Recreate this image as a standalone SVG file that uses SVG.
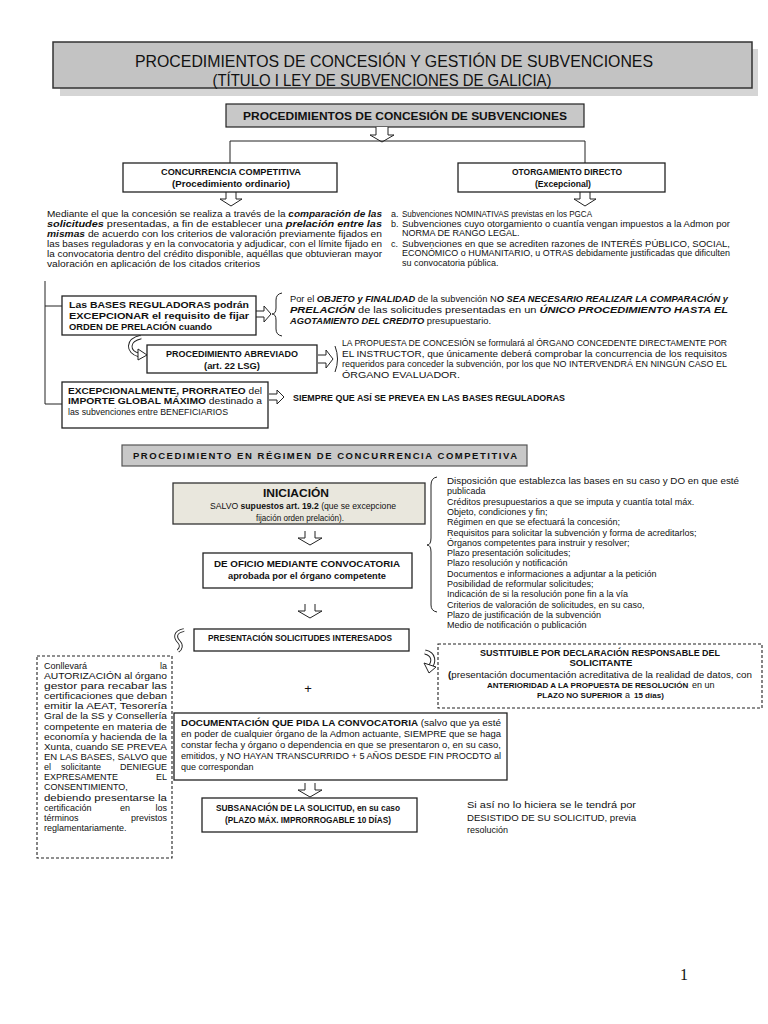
<svg xmlns="http://www.w3.org/2000/svg" width="768" height="1024" viewBox="0 0 768 1024">
<style>
text{font-family:"Liberation Sans",Arial,sans-serif;font-size:9px;fill:#111}
.b{font-weight:bold}
.bi{font-weight:bold;font-style:italic}
.c{text-anchor:middle}
.e{text-anchor:end}
.box{fill:#fff;stroke:#222;stroke-width:1.3}
.dash{fill:#fff;stroke:#222;stroke-width:1.1;stroke-dasharray:3,2}
.ln{fill:none;stroke:#222;stroke-width:1}
.arw{fill:#fff;stroke:#222;stroke-width:1}
.title{font-size:16.5px}
.s10{font-size:10px}
.s11{font-size:11px}
.s85{font-size:8.5px}
.s8{font-size:8px}
</style>
<rect width="768" height="1024" fill="#fff"/>

<g id="title">
<rect x="60" y="49" width="698" height="47" fill="#d5d5d5"/>
<rect x="53" y="42" width="699" height="46" fill="#c3c3c3" stroke="#333" stroke-width="1.5"/>
<text class="title c" x="394" y="67" textLength="518" lengthAdjust="spacingAndGlyphs">PROCEDIMIENTOS DE CONCESIÓN Y GESTIÓN DE SUBVENCIONES</text>
<text class="title c" x="382" y="86" textLength="339" lengthAdjust="spacingAndGlyphs">(TÍTULO I LEY DE SUBVENCIONES DE GALICIA)</text>
</g>

<g id="sub1">
<rect x="226" y="104" width="358" height="23" fill="#c8c8c8" stroke="#222" stroke-width="1.2"/>
<text class="b c s11" x="405" y="120" textLength="324" lengthAdjust="spacingAndGlyphs">PROCEDIMIENTOS DE CONCESIÓN DE SUBVENCIONES</text>
</g>

<g id="connectors">
<path class="arw" d="M376 127V135H370L382 142L394 135H388V127"/>
<path class="ln" d="M230 163V141H585V163"/>
<path class="arw" d="M226 192V199H220L231 206L242 199H236V192"/>
<path class="arw" d="M580 192V199H574L585 206L596 199H590V192"/>
<path class="ln" d="M45 281V404M45 306H62M45 404H62"/>
<path class="arw" d="M256 311H264V306L271 314L264 322V317H256"/>
<path class="ln" d="M282 293Q276 294 276 300V308Q276 314 272 314Q276 314 276 320V329Q276 335 282 336"/>
<path d="M141 337C127 340 127 352 139 355" fill="none" stroke="#222" stroke-width="4.5"/>
<path d="M141 337C127 340 127 352 139 355" fill="none" stroke="#fff" stroke-width="2.6"/>
<path class="arw" d="M138 349L147 355L138 360Z"/>
<path class="arw" d="M318 355H326V350L333 359L326 368V363H318"/>
<path class="ln" d="M335 346Q340 359 335 372"/>
<path class="arw" d="M269 394H277V390L284 397L277 404V400H269"/>
<path class="arw" d="M305 531V538H298L310 545L322 538H315V531"/>
<path class="arw" d="M305 604V611H298L310 618L322 611H315V604"/>
<path class="ln" d="M437 477Q431 478 431 485V538Q431 545 427 545Q431 545 431 552V605Q431 611 437 612"/>
<path d="M184 630C174 632 175 638 179 642C182 645 181 649 178 651" fill="none" stroke="#222" stroke-width="3.8"/>
<path d="M184 630C174 632 175 638 179 642C182 645 181 649 178 651" fill="none" stroke="#fff" stroke-width="2"/>
<path d="M425 652C434 654 435 662 429 668" fill="none" stroke="#222" stroke-width="5"/>
<path d="M425 652C434 654 435 662 429 668" fill="none" stroke="#fff" stroke-width="3"/>
<path class="arw" d="M424 663L429 673L436 667Z"/>
<path class="arw" d="M305 783V790H298L310 797L322 790H315V783"/>
</g>

<g id="concurrencia">
<rect class="box" x="123" y="163" width="214" height="29"/>
<text class="b c s85" x="231" y="175" textLength="140" lengthAdjust="spacingAndGlyphs">CONCURRENCIA COMPETITIVA</text>
<text class="b c s85" x="231" y="187" textLength="118" lengthAdjust="spacingAndGlyphs">(Procedimiento ordinario)</text>
</g>

<g id="otorgamiento">
<rect class="box" x="458" y="163" width="207" height="29"/>
<text class="b c s85" x="567" y="175" textLength="110" lengthAdjust="spacingAndGlyphs">OTORGAMIENTO DIRECTO</text>
<text class="b c s85" x="563" y="187" textLength="56" lengthAdjust="spacingAndGlyphs">(Excepcional)</text>
</g>

<g id="texto-concurrencia">
<text x="47" y="217" textLength="335" lengthAdjust="spacingAndGlyphs">Mediante el  que la concesión se realiza a través de la <tspan class="bi">comparación de las</tspan></text>
<text x="47" y="227" textLength="335" lengthAdjust="spacingAndGlyphs"><tspan class="bi">solicitudes</tspan> presentadas, a fin de establecer una <tspan class="bi">prelación entre las</tspan></text>
<text x="47" y="237" textLength="335" lengthAdjust="spacingAndGlyphs"><tspan class="bi">mismas</tspan> de acuerdo con los criterios de valoración previamente fijados en</text>
<text x="47" y="247" textLength="335" lengthAdjust="spacingAndGlyphs">las bases reguladoras y en la convocatoria y adjudicar, con el límite fijado en</text>
<text x="47" y="257" textLength="335" lengthAdjust="spacingAndGlyphs">la convocatoria dentro del crédito disponible, aquéllas que obtuvieran mayor</text>
<text x="47" y="267" textLength="213" lengthAdjust="spacingAndGlyphs">valoración en aplicación de los citados criterios</text>
</g>

<g id="texto-directo">
<text x="391" y="217">a.</text>
<text x="402" y="217" textLength="190" lengthAdjust="spacingAndGlyphs">Subvenciones NOMINATIVAS previstas en los PGCA</text>
<text x="391" y="227">b.</text>
<text x="402" y="227" textLength="328" lengthAdjust="spacingAndGlyphs">Subvenciones cuyo otorgamiento o cuantía vengan impuestos a la Admon por</text>
<text x="402" y="236">NORMA DE RANGO LEGAL.</text>
<text x="391" y="247">c.</text>
<text x="402" y="247" textLength="328" lengthAdjust="spacingAndGlyphs">Subvenciones en que se acrediten razones de INTERÉS PÚBLICO, SOCIAL,</text>
<text x="402" y="256" textLength="328" lengthAdjust="spacingAndGlyphs">ECONÓMICO o HUMANITARIO, u OTRAS debidamente justificadas que dificulten</text>
<text x="402" y="266">su convocatoria pública.</text>
</g>

<g id="bases">
<rect class="box" x="62" y="296" width="194" height="39"/>
<text class="b" x="69" y="308" textLength="180" lengthAdjust="spacingAndGlyphs">Las  BASES  REGULADORAS  podrán</text>
<text class="b" x="69" y="319" textLength="180" lengthAdjust="spacingAndGlyphs">EXCEPCIONAR el requisito de fijar</text>
<text class="b" x="69" y="330" textLength="143" lengthAdjust="spacingAndGlyphs">ORDEN DE PRELACIÓN cuando</text>
</g>

<g id="texto-objeto">
<text x="290" y="302" textLength="438" lengthAdjust="spacingAndGlyphs">Por el <tspan class="bi">OBJETO y FINALIDAD</tspan> de la subvención N<tspan class="bi">O SEA NECESARIO REALIZAR LA COMPARACIÓN y</tspan></text>
<text x="290" y="313" textLength="438" lengthAdjust="spacingAndGlyphs"><tspan class="bi">PRELACIÓN</tspan> de las solicitudes presentadas en un <tspan class="bi">ÚNICO PROCEDIMIENTO HASTA EL</tspan></text>
<text x="290" y="324" textLength="201" lengthAdjust="spacingAndGlyphs"><tspan class="bi">AGOTAMIENTO DEL CREDITO</tspan> presupuestario.</text>
</g>

<g id="abreviado">
<rect class="box" x="147" y="345" width="170" height="28"/>
<text class="b c" x="232" y="357" textLength="132" lengthAdjust="spacingAndGlyphs">PROCEDIMIENTO ABREVIADO</text>
<text class="b c" x="232" y="369" textLength="56" lengthAdjust="spacingAndGlyphs">(art. 22 LSG)</text>
</g>

<g id="texto-propuesta">
<text x="342" y="346" textLength="385" lengthAdjust="spacingAndGlyphs">LA PROPUESTA DE CONCESIÓN se formulará al ÓRGANO CONCEDENTE DIRECTAMENTE POR</text>
<text x="342" y="357" textLength="385" lengthAdjust="spacingAndGlyphs">EL INSTRUCTOR, que únicamente deberá comprobar la concurrencia de los requisitos</text>
<text x="342" y="367" textLength="385" lengthAdjust="spacingAndGlyphs">requeridos para conceder la subvención, por los que NO INTERVENDRÁ EN NINGÚN CASO EL</text>
<text x="342" y="378" textLength="118" lengthAdjust="spacingAndGlyphs">ÓRGANO EVALUADOR.</text>
</g>

<g id="prorrateo">
<rect class="box" x="62" y="382" width="206" height="46"/>
<text x="68" y="394" textLength="194" lengthAdjust="spacingAndGlyphs"><tspan class="b">EXCEPCIONALMENTE, PRORRATEO</tspan> del</text>
<text x="68" y="404" textLength="194" lengthAdjust="spacingAndGlyphs"><tspan class="b">IMPORTE GLOBAL MÁXIMO</tspan> destinado a</text>
<text x="68" y="415" textLength="160" lengthAdjust="spacingAndGlyphs">las subvenciones entre  BENEFICIARIOS</text>
</g>

<g id="texto-siempre">
<text class="b" x="293" y="401" textLength="272" lengthAdjust="spacingAndGlyphs">SIEMPRE QUE ASÍ SE PREVEA EN LAS BASES REGULADORAS</text>
</g>

<g id="sub2">
<rect x="122" y="445" width="405" height="21" fill="#c8c8c8" stroke="#555" stroke-width="1.2"/>
<text class="b c" x="325" y="459" style="font-size:9.5px" textLength="384" lengthAdjust="spacing">PROCEDIMIENTO EN RÉGIMEN DE CONCURRENCIA COMPETITIVA</text>
</g>

<g id="iniciacion">
<rect x="173" y="483" width="252" height="41" fill="#e9e7dd" stroke="#333" stroke-width="1.3"/>
<text class="b c s10" x="296" y="497" textLength="66" lengthAdjust="spacingAndGlyphs">INICIACIÓN</text>
<text class="c" x="303" y="509" textLength="186" lengthAdjust="spacingAndGlyphs">SALVO <tspan class="b">supuestos art. 19.2</tspan> (que se excepcione</text>
<text class="c" x="300" y="521" textLength="88" lengthAdjust="spacingAndGlyphs">fijación orden prelación).</text>
</g>

<g id="oficio">
<rect class="box" x="203" y="553" width="209" height="35"/>
<text class="b c" x="307" y="567" textLength="186" lengthAdjust="spacingAndGlyphs">DE OFICIO MEDIANTE  CONVOCATORIA</text>
<text class="b c" x="307" y="579" textLength="158" lengthAdjust="spacingAndGlyphs">aprobada por el órgano competente</text>
</g>

<g id="contenido-convocatoria">
<text x="447" y="484" textLength="292" lengthAdjust="spacingAndGlyphs">Disposición que establezca las bases en su caso y DO en que esté</text>
<text x="447" y="494">publicada</text>
<text x="447" y="505">Créditos presupuestarios a que se imputa y cuantía total máx.</text>
<text x="447" y="515">Objeto, condiciones y fin;</text>
<text x="447" y="525">Régimen  en que se efectuará la concesión;</text>
<text x="447" y="536">Requisitos para solicitar la subvención y forma de acreditarlos;</text>
<text x="447" y="546">Órganos competentes para instruir y resolver;</text>
<text x="447" y="556">Plazo presentación solicitudes;</text>
<text x="447" y="566">Plazo resolución y notificación</text>
<text x="447" y="577">Documentos e informaciones a adjuntar a la petición</text>
<text x="447" y="587">Posibilidad de reformular solicitudes;</text>
<text x="447" y="597">Indicación de si la resolución pone fin a la vía</text>
<text x="447" y="608">Criterios de valoración de solicitudes, en su caso,</text>
<text x="447" y="618">Plazo de justificación de la subvención</text>
<text x="447" y="628">Medio de notificación o publicación</text>
</g>

<g id="presentacion">
<rect class="box" x="194" y="629" width="215" height="22"/>
<text class="b c" x="300" y="641" textLength="184" lengthAdjust="spacingAndGlyphs">PRESENTACIÓN SOLICITUDES INTERESADOS</text>
</g>

<g id="sustituible">
<rect class="dash" x="438" y="644" width="324" height="64"/>
<text class="b c" x="600" y="656" textLength="240" lengthAdjust="spacingAndGlyphs">SUSTITUIBLE POR DECLARACIÓN RESPONSABLE DEL</text>
<text class="b c" x="601" y="666" textLength="63" lengthAdjust="spacingAndGlyphs">SOLICITANTE</text>
<text class="c" x="600" y="678" textLength="304" lengthAdjust="spacingAndGlyphs"><tspan class="b">(</tspan>presentación documentación acreditativa de la realidad de datos, con</text>
<text class="b s8" x="487" y="688">ANTERIORIDAD A LA PROPUESTA DE RESOLUCIÓN</text>
<text x="692" y="688">en un</text>
<text class="b s8" x="537" y="698">PLAZO NO SUPERIOR</text>
<text x="625" y="698">a</text>
<text class="b s8" x="634" y="698">15 días)</text>
</g>

<g id="mas">
<text class="c" x="308" y="693" style="font-size:13px">+</text>
</g>

<g id="autorizacion">
<rect class="dash" x="37" y="656" width="135" height="202"/>
<text x="44" y="669">Conllevará</text><text class="e" x="167" y="669">la</text>
<text x="44" y="679" textLength="123" lengthAdjust="spacingAndGlyphs">AUTORIZACIÓN al órgano</text>
<text x="44" y="689" textLength="123" lengthAdjust="spacingAndGlyphs">gestor para recabar las</text>
<text x="44" y="699" textLength="123" lengthAdjust="spacingAndGlyphs">certificaciones que deban</text>
<text x="44" y="709" textLength="123" lengthAdjust="spacingAndGlyphs">emitir la AEAT, Tesorería</text>
<text x="44" y="719" textLength="123" lengthAdjust="spacingAndGlyphs">Gral de la SS y Consellería</text>
<text x="44" y="730" textLength="123" lengthAdjust="spacingAndGlyphs">competente en materia de</text>
<text x="44" y="740" textLength="123" lengthAdjust="spacingAndGlyphs">economía y hacienda de la</text>
<text x="44" y="750" textLength="123" lengthAdjust="spacingAndGlyphs">Xunta, cuando SE PREVEA</text>
<text x="44" y="760" textLength="123" lengthAdjust="spacingAndGlyphs">EN LAS BASES, SALVO que</text>
<text x="44" y="770">el</text><text x="61" y="770">solicitante</text><text class="e" x="167" y="770">DENIEGUE</text>
<text x="44" y="780">EXPRESAMENTE</text><text class="e" x="167" y="780">EL</text>
<text x="44" y="790">CONSENTIMIENTO,</text>
<text x="44" y="801" textLength="123" lengthAdjust="spacingAndGlyphs">debiendo presentarse la</text>
<text x="44" y="811">certificación</text><text class="c" x="125" y="811">en</text><text class="e" x="167" y="811">los</text>
<text x="44" y="821">términos</text><text class="e" x="167" y="821">previstos</text>
<text x="44" y="831">reglamentariamente.</text>
</g>

<g id="documentacion">
<rect class="box" x="174" y="713" width="333" height="67"/>
<text x="181" y="726" textLength="320" lengthAdjust="spacingAndGlyphs"><tspan class="b">DOCUMENTACIÓN QUE PIDA LA CONVOCATORIA</tspan> (salvo que ya esté</text>
<text x="181" y="737" textLength="320" lengthAdjust="spacingAndGlyphs">en poder  de cualquier órgano de la Admon actuante, SIEMPRE que se haga</text>
<text x="181" y="748" textLength="320" lengthAdjust="spacingAndGlyphs">constar fecha y órgano o dependencia en que se presentaron o, en su caso,</text>
<text x="181" y="759" textLength="320" lengthAdjust="spacingAndGlyphs">emitidos, y NO HAYAN TRANSCURRIDO + 5 AÑOS DESDE FIN PROCDTO al</text>
<text x="181" y="770">que correspondan</text>
</g>

<g id="subsanacion">
<rect class="box" x="202" y="798" width="215" height="34"/>
<text class="b c" x="308" y="811" textLength="184" lengthAdjust="spacingAndGlyphs">SUBSANACIÓN DE LA SOLICITUD, en su caso</text>
<text class="b c" x="308" y="823" textLength="166" lengthAdjust="spacingAndGlyphs">(PLAZO MÁX. IMPRORROGABLE 10 DÍAS)</text>
</g>

<g id="desistido">
<text x="467" y="808" textLength="169" lengthAdjust="spacingAndGlyphs">Si así no lo hiciera se le tendrá por</text>
<text x="467" y="821" textLength="169" lengthAdjust="spacingAndGlyphs">DESISTIDO DE SU SOLICITUD, previa</text>
<text x="467" y="833">resolución</text>
</g>

<text x="680" y="980" style="font-family:'Liberation Serif','Times New Roman',serif;font-size:16px">1</text>
</svg>
